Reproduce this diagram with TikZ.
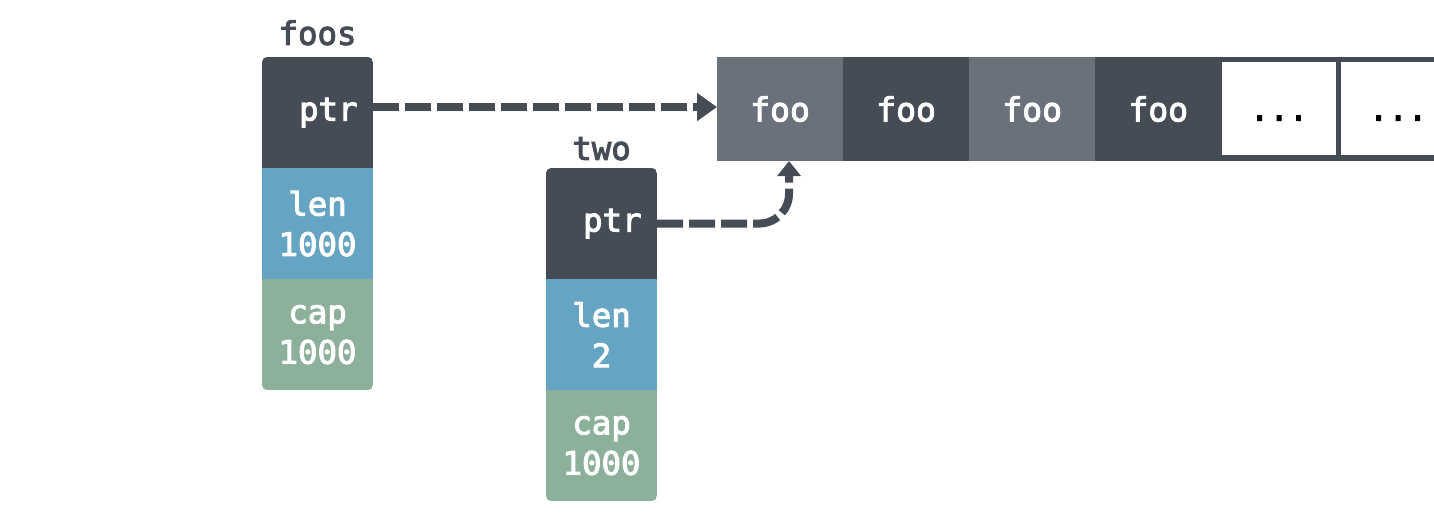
\documentclass[tikz,border=0pt]{standalone}
\usepackage{fontspec}
\newfontfamily\codefont[FakeBold=3]{DejaVu Sans Mono}
\usepackage{tikz}
\usetikzlibrary{positioning, arrows.meta}

\definecolor{slotdark}{HTML}{464C56}
\definecolor{slotlight}{HTML}{6B717B}
\definecolor{lenblue}{HTML}{66A4C3}
\definecolor{capgreen}{HTML}{8DB09B}

\tikzset{
  field/.style={minimum width=1.11cm, minimum height=1.11cm, inner sep=0pt, outer sep=0pt, text=white, align=center,
    font=\fontsize{9.2}{11.5}\selectfont\codefont},
  ptrfield/.style={field, fill=slotdark, text width=0.8cm, align=right},
  lenfield/.style={field, fill=lenblue},
  capfield/.style={field, fill=capgreen},
  varname/.style={inner sep=0.1cm, text=slotdark, font=\fontsize{9.2}{11.5}\selectfont\codefont},
  foocell/.style={minimum width=1.26cm, minimum height=1.04cm, inner sep=0pt, outer sep=0pt, text=white,
    font=\fontsize{9.4}{11.5}\selectfont\codefont},
  freecell/.style={fill=white, minimum width=1.14cm, minimum height=0.93cm, inner sep=0pt, outer sep=0pt,
    text height=0.24cm, text depth=0cm, font=\fontsize{9.2}{11.5}\selectfont\codefont},
  ptrarrow/.style={draw=slotdark, line width=0.08cm, dash pattern=on 0.26cm off 0.06cm}
}

\begin{document}
\begin{tikzpicture}[x=0.01cm, y=-0.01cm, node distance=0cm]
        \useasboundingbox (0,0) rectangle (1434,526);
        % foos header
        \begin{scope}
            \clip[rounded corners=0.05cm] (262,57) rectangle (373,390);
            \node[ptrfield, anchor=north west] (foosptr) at (262,57) {ptr};
            \node[lenfield, below=of foosptr] (fooslen) {len\\1000};
            \node[capfield, below=of fooslen] (fooscap) {cap\\1000};
        \end{scope}
        \node[varname, above=0.01cm of foosptr] (foos) {foos};
        % two header
        \begin{scope}
            \clip[rounded corners=0.05cm] (546,168) rectangle (657,501);
            \node[ptrfield, anchor=north west] (twoptr) at (546,168) {ptr};
            \node[lenfield, below=of twoptr] (twolen) {len\\2};
            \node[capfield, below=of twolen] (twocap) {cap\\1000};
        \end{scope}
        \node[varname, above=-0.03cm of twoptr] (two) {two};
        % heap buffer
        \fill[slotdark] (717,57) rectangle (1480,161);
        \node[foocell, fill=slotlight, anchor=north west] (cell1) at (717,57) {foo};
        \node[foocell, fill=slotdark, right=of cell1] (cell2) {foo};
        \node[foocell, fill=slotlight, right=of cell2] (cell3) {foo};
        \node[foocell, fill=slotdark, right=of cell3] (cell4) {foo};
        \node[freecell, anchor=north west] (cell5) at (1222,62) {...};
        \node[freecell, right=0.05cm of cell5] (cell6) {...};
        % pointers
        \draw[ptrarrow, -{Triangle[length=0.2cm, width=0.27cm]}] ([yshift=0.02cm]foosptr.east |- cell1.west) -- ([yshift=0.02cm]cell1.west);
        \draw[ptrarrow, rounded corners=0.3cm, -{Triangle[length=0.15cm, width=0.23cm]}]
            (twoptr.east) -| ([xshift=0.09cm]cell1.south);
\end{tikzpicture}
\end{document}
